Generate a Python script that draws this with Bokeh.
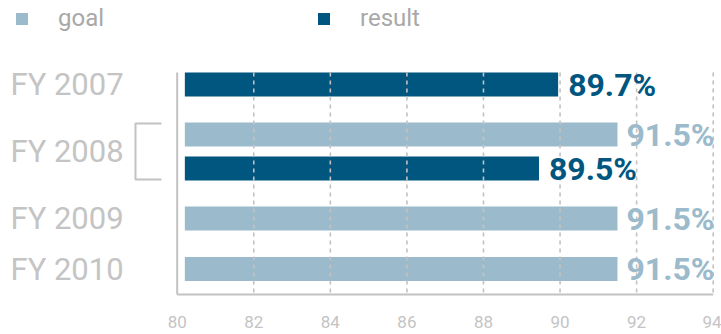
from bokeh.plotting import figure
from bokeh.models import Range1d, FixedTicker, Legend, LegendItem, ColumnDataSource
from bokeh.core.properties import value
from bokeh.embed import file_html
from bokeh.resources import INLINE

# ---- data ----
YEARS = ["FY 2007", "FY 2008", "FY 2009", "FY 2010"]
GOAL = [None, 91.5, 91.5, 91.5]
GOAL_LABELS = [None, "91.5%", "91.5%", "91.5%"]
RESULT = [89.95, 89.45, None, None]          # bar lengths as drawn in the picture
RESULT_LABELS = ["89.7%", "89.5%", None, None]
TICKS = [80, 82, 84, 86, 88, 90, 92, 94]

# ---- style ----
DARK = "#00567f"
LIGHT = "#9bbacb"
GREY_TXT = "#c4c4c4"
GREY_LINE = "#c2c2c2"
FONT = "Roboto"

PX = 38.29                      # pixels per unit
X0 = TICKS[0] - 176.7 / PX
X1 = TICKS[-1] + (721 - 712.7) / PX
ROW_Y = [84, 151, 218, 268.5]   # row centres (px from top)
PAIR = 17
BAR_H = 24
BAR_GAP = 0.2
TOP, BOTTOM = 72, 294

goal_y, goal_v, goal_t, res_y, res_v, res_t = [], [], [], [], [], []
for r, g, gt, v, vt in zip(ROW_Y, GOAL, GOAL_LABELS, RESULT, RESULT_LABELS):
    both = g is not None and v is not None
    if g is not None:
        goal_y.append(r - PAIR if both else r)
        goal_v.append(g)
        goal_t.append(gt)
    if v is not None:
        res_y.append(r + PAIR if both else r)
        res_v.append(v)
        res_t.append(vt)

goal_src = ColumnDataSource(dict(y=goal_y, v=goal_v, t=goal_t))
res_src = ColumnDataSource(dict(y=res_y, v=res_v, t=res_t))

p = figure(width=721, height=334, x_range=Range1d(X0, X1), y_range=Range1d(300, 0),
           output_backend="svg", toolbar_location=None,
           min_border_left=0, min_border_right=0, min_border_top=0, min_border_bottom=34)
p.outline_line_color = None
p.grid.visible = False
p.yaxis.visible = False
p.background_fill_color = "white"
p.border_fill_color = "white"

ax = p.xaxis[0]
ax.ticker = FixedTicker(ticks=TICKS)
ax.axis_line_color = None
ax.major_tick_line_color = None
ax.minor_tick_line_color = None
ax.major_label_standoff = 9
ax.major_label_text_font = FONT
ax.major_label_text_font_size = "17px"
ax.major_label_text_color = GREY_TXT

base = TICKS[0] + BAR_GAP
rg = p.hbar(y="y", right="v", left=base, height=BAR_H, source=goal_src,
            fill_color=LIGHT, line_color=None)
rr = p.hbar(y="y", right="v", left=base, height=BAR_H, source=res_src,
            fill_color=DARK, line_color=None)

# gridlines (on top of bars)
gx = TICKS[1:]
p.segment(x0=gx, x1=gx, y0=[TOP] * len(gx), y1=[BOTTOM] * len(gx),
          line_color=GREY_LINE, line_width=1.6, line_dash="4 4")
# axis lines
p.segment(x0=[TICKS[0], TICKS[0]], x1=[TICKS[0], TICKS[-1]],
          y0=[TOP, BOTTOM], y1=[BOTTOM, BOTTOM], line_color=GREY_LINE, line_width=2)

# value labels
p.text(x="v", y="y", text="t", source=goal_src, x_offset=9, text_baseline="middle",
       text_font=value(FONT), text_font_style="bold", text_font_size="32px", text_color=LIGHT)
p.text(x="v", y="y", text="t", source=res_src, x_offset=10, text_baseline="middle",
       text_font=value(FONT), text_font_style="bold", text_font_size="32px", text_color=DARK)

# category labels
p.text(x=[X0 + 10 / PX] * len(YEARS), y=ROW_Y, text=YEARS, text_baseline="middle",
       text_font=value(FONT), text_font_size="31px", text_color=GREY_TXT)

# bracket for paired row
bx0 = X0 + 135 / PX
bx1 = X0 + 161 / PX
by0 = ROW_Y[1] - 28
by1 = ROW_Y[1] + 28
p.line(x=[bx1, bx0, bx0, bx1], y=[by0, by0, by1, by1], line_color=GREY_LINE, line_width=2)

# legends
for lab, rend, lx in (("goal", rg, 14), ("result", rr, 316)):
    lg = Legend(items=[LegendItem(label=lab, renderers=[rend])], location=(lx, 268),
                orientation="horizontal", glyph_width=15, glyph_height=15,
                label_standoff=29, padding=0, margin=0, spacing=0,
                border_line_color=None, background_fill_alpha=0,
                label_text_font=FONT, label_text_font_size="24px", label_text_color="#a8a8a8")
    p.add_layout(lg, "center")

open("out.html", "w").write(file_html(p, INLINE))
